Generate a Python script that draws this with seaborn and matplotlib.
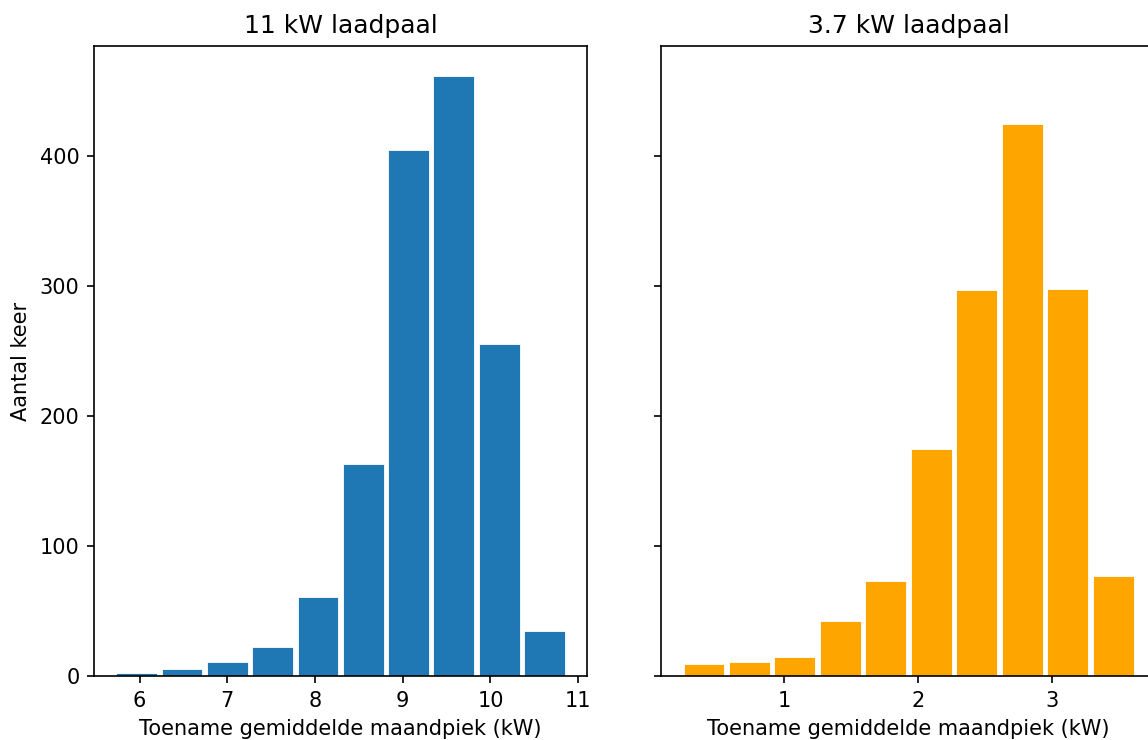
import numpy as np
import matplotlib
matplotlib.use('Agg')
import matplotlib.pyplot as plt
import seaborn as sns

# Bin edges (kW) and counts
edges_11kw = [5.71, 6.23, 6.74, 7.26, 7.78, 8.29, 8.81, 9.32, 9.84, 10.36, 10.87]
counts_11kw = [2, 5, 11, 22, 61, 163, 405, 462, 256, 35]

edges_37kw = [0.23, 0.57, 0.91, 1.25, 1.59, 1.93, 2.27, 2.61, 2.95, 3.29, 3.63]
counts_37kw = [9, 11, 15, 42, 73, 175, 297, 425, 298, 77]

titles = ['11 kW laadpaal', '3.7 kW laadpaal']
colors = ['#1f77b4', 'orange']
xlabel = 'Toename gemiddelde maandpiek (kW)'
ylabel = 'Aantal keer'


def centers(edges):
    e = np.asarray(edges)
    return (e[:-1] + e[1:]) / 2


fig = plt.figure(figsize=(1148 / 150, 740 / 150), dpi=150)
# right panel runs past the figure edge, like the cropped reference
ax1 = fig.add_axes([0.0819, 0.0865, 0.4294, 0.8514])
ax2 = fig.add_axes([0.5758, 0.0865, 0.4312, 0.8514], sharey=ax1)

panels = [(ax1, edges_11kw, counts_11kw), (ax2, edges_37kw, counts_37kw)]
for i, (ax, edges, counts) in enumerate(panels):
    sns.histplot(x=centers(edges), weights=counts, bins=edges, shrink=0.9,
                 color=colors[i], alpha=1, edgecolor='white', linewidth=0.4, ax=ax)
    ax.set_title(titles[i], fontsize=12)
    ax.set_xlabel(xlabel, fontsize=10)
    ax.tick_params(labelsize=10)

ax1.set_ylabel(ylabel, fontsize=10)
ax2.set_ylabel('')
ax2.tick_params(axis='y', labelleft=False)
ax1.set_yticks([0, 100, 200, 300, 400])
ax1.set_xticks([6, 7, 8, 9, 10, 11])
ax2.set_xticks([1, 2, 3])

fig.savefig('out.png', dpi=150)
